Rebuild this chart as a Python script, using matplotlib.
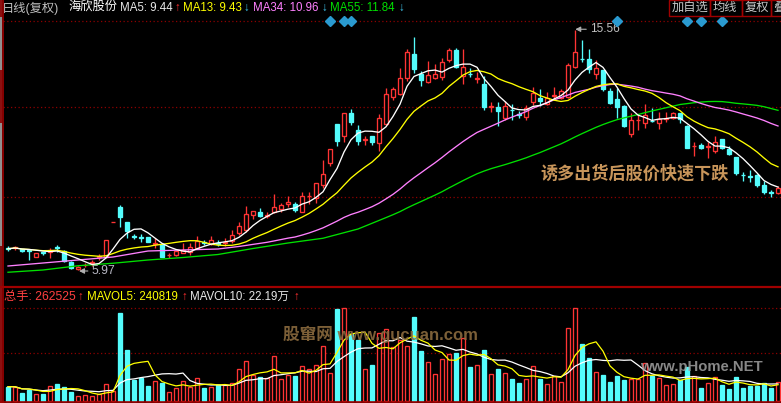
import numpy as np
import pandas as pd
import matplotlib
matplotlib.use('Agg')
import matplotlib.pyplot as plt
from matplotlib.lines import Line2D
from matplotlib.patches import Rectangle

plt.rcParams['font.family'] = ['Liberation Sans', 'Noto Sans CJK SC', 'DejaVu Sans']

# ---------------- data (daily bars, price in yuan, volume in 10k lots) ----------------
opens = [6.84, 6.84, 6.80, 6.76, 6.49, 6.69, 6.67, 6.87, 6.72, 6.29,
         6.00, 6.15, 6.24, 6.48, 6.49, 7.88, 8.49, 7.87, 7.32, 7.28,
         7.27, 7.00, 6.99, 6.55, 6.56, 6.65, 6.69, 6.86, 7.08, 7.00,
         7.04, 7.03, 7.13, 7.43, 7.56, 8.15, 8.29, 8.12, 8.29, 8.40,
         8.59, 8.60, 8.29, 8.91, 8.83, 9.35, 10.23, 11.80, 11.33, 12.23,
         11.56, 11.16, 11.32, 11.03, 11.80, 12.89, 13.00, 13.63, 14.60, 13.79,
         13.47, 13.65, 13.69, 14.36, 14.76, 13.73, 13.81, 13.61, 13.39, 12.48,
         12.49, 12.05, 12.38, 12.20, 12.09, 12.67, 12.85, 12.60, 12.92, 12.85,
         12.89, 14.09, 14.41, 14.39, 13.80, 13.96, 13.12, 12.80, 12.52, 11.40,
         11.95, 11.83, 11.93, 11.83, 12.01, 12.03, 12.23, 11.73, 10.91, 10.96,
         10.88, 10.73, 11.20, 10.79, 10.49, 9.77, 9.71, 9.76, 9.36, 9.08,
         9.03]
highs = [6.91, 6.93, 6.82, 6.76, 6.64, 6.69, 6.83, 6.96, 6.76, 6.32,
         6.14, 6.23, 6.36, 6.59, 7.16, 7.88, 8.56, 7.87, 7.39, 7.39,
         7.29, 7.23, 7.00, 6.63, 6.72, 7.03, 7.03, 7.34, 7.16, 7.32,
         7.16, 7.23, 7.56, 7.89, 8.52, 8.32, 8.43, 8.29, 9.00, 8.64,
         8.92, 8.67, 9.07, 9.07, 9.43, 10.36, 10.80, 11.80, 12.23, 12.40,
         11.76, 11.32, 11.32, 12.20, 13.25, 13.29, 14.03, 14.80, 15.29, 13.92,
         14.32, 14.19, 14.45, 14.83, 14.83, 14.80, 14.03, 13.89, 13.73, 12.69,
         12.67, 12.72, 12.59, 12.34, 12.56, 13.29, 13.20, 13.09, 13.29, 13.20,
         14.23, 15.56, 15.16, 14.79, 14.36, 13.96, 13.24, 13.23, 12.56, 12.23,
         12.20, 12.59, 12.44, 12.27, 12.29, 12.29, 12.24, 11.76, 11.07, 11.03,
         11.07, 11.32, 11.20, 10.93, 10.49, 9.89, 9.96, 9.80, 9.52, 9.16,
         9.32]
lows = [6.72, 6.75, 6.70, 6.36, 6.48, 6.56, 6.43, 6.69, 6.28, 6.01,
        5.97, 6.07, 6.13, 6.36, 6.49, 7.88, 7.69, 7.25, 7.20, 7.07,
        7.07, 6.85, 6.48, 6.43, 6.52, 6.65, 6.56, 6.83, 6.96, 6.96,
        6.92, 6.92, 7.03, 7.36, 7.49, 8.01, 8.10, 8.03, 8.25, 8.29,
        8.49, 8.29, 8.29, 8.60, 8.65, 9.23, 10.12, 10.93, 11.09, 11.76,
        10.96, 10.96, 10.96, 10.73, 11.76, 12.76, 12.96, 13.52, 13.83, 13.32,
        13.43, 13.60, 13.56, 14.29, 14.03, 13.39, 13.69, 13.43, 12.36, 12.27,
        11.73, 11.96, 11.96, 12.04, 11.96, 12.56, 12.53, 12.56, 12.80, 12.80,
        12.83, 14.03, 14.27, 13.83, 13.59, 13.12, 12.62, 12.03, 11.68, 11.29,
        11.56, 11.63, 11.88, 11.60, 11.89, 12.00, 11.83, 10.83, 10.53, 10.80,
        10.45, 10.63, 10.80, 10.58, 9.76, 9.53, 9.49, 9.30, 8.99, 8.89,
        9.02]
closes = [6.81, 6.87, 6.72, 6.73, 6.63, 6.64, 6.76, 6.84, 6.32, 6.05,
          6.09, 6.17, 6.27, 6.51, 7.16, 7.88, 8.09, 7.53, 7.28, 7.24,
          7.09, 7.04, 6.49, 6.57, 6.72, 6.75, 6.89, 7.12, 7.05, 7.16,
          7.01, 7.09, 7.36, 7.72, 8.20, 8.32, 8.12, 8.15, 8.47, 8.55,
          8.68, 8.36, 8.92, 8.93, 9.43, 9.80, 10.80, 11.13, 12.23, 11.89,
          11.13, 11.20, 11.09, 12.03, 12.99, 13.20, 13.65, 14.67, 14.00, 13.56,
          13.76, 13.79, 14.27, 14.76, 14.09, 14.07, 13.79, 13.64, 12.49, 12.51,
          12.32, 12.52, 12.35, 12.17, 12.45, 13.03, 12.72, 12.85, 12.95, 13.12,
          14.16, 14.70, 14.39, 14.00, 14.04, 13.20, 12.65, 12.48, 11.72, 11.96,
          11.97, 12.16, 11.91, 11.99, 12.04, 12.23, 12.00, 10.85, 10.93, 10.83,
          10.91, 11.07, 10.83, 10.60, 9.83, 9.75, 9.68, 9.36, 9.07, 9.05,
          9.23]
volumes = [19.3, 19.3, 10.6, 15.2, 9.2, 9.2, 20.2, 23.0, 19.3, 12.4,
           6.9, 7.8, 6.9, 9.2, 23.0, 13.8, 121.4, 70.4, 29.0, 30.8,
           20.2, 27.6, 24.4, 12.4, 17.5, 27.6, 18.4, 31.3, 17.9, 19.3,
           21.6, 21.6, 24.4, 43.7, 55.2, 35.9, 33.1, 30.8, 61.6, 30.4,
           35.9, 33.6, 47.4, 43.2, 49.7, 75.0, 38.6, 126.0, 128.4, 92.5,
           83.2, 43.2, 48.7, 93.8, 98.4, 74.1, 84.0, 75.0, 116.0, 68.0,
           54.0, 36.8, 57.5, 64.4, 66.2, 86.5, 46.9, 49.2, 70.4, 36.8,
           44.2, 38.2, 30.4, 24.8, 29.9, 47.8, 30.4, 23.0, 34.5, 26.2,
           100.3, 127.9, 78.7, 59.3, 40.0, 35.9, 26.2, 34.5, 29.0, 29.9,
           29.9, 52.0, 34.5, 31.7, 21.6, 23.0, 29.0, 46.9, 33.6, 17.9,
           24.8, 32.2, 22.1, 16.6, 33.1, 17.9, 20.7, 20.7, 24.4, 17.9,
           26.2]
# moving-average values before enough history is on screen
ma34_head_idx = [0, 5, 10, 15, 20, 25, 30]
ma34_head = [6.12, 6.24, 6.36, 6.48, 6.72, 6.76, 6.80]
ma55_head_idx = [0, 5, 10, 15, 20, 25, 30, 35, 40, 45, 50]
ma55_head = [5.87, 5.96, 6.13, 6.23, 6.36, 6.46, 6.58, 6.82, 7.04, 7.23, 7.60]
event_idx = [46, 48, 49, 87, 97, 99, 102]
hi_idx, hi_text = 81, '15.56'
lo_idx, lo_text = 10, '5.97'

price_header = [('日线(复权)', '#C0C0C0'), ('海欣股份', '#FFFFFF'),
                ('MA5: 9.44', '#E8E8E8'), ('↑', '#FF3030'),
                ('MA13: 9.43', '#FFFF00'), ('↓', '#40C8F0'),
                ('MA34: 10.96', '#FF80FF'), ('↓', '#40C8F0'),
                ('MA55: 11.84', '#00E000'), ('↓', '#40C8F0')]
vol_header = [('总手: 262525', '#FF4040'), ('↑', '#FF3030'),
              ('MAVOL5: 240819', '#FFFF00'), ('↑', '#FF3030'),
              ('MAVOL10: 22.19万', '#E8E8E8'), ('↑', '#FF3030')]
buttons = ['加自选', '均线', '复权', '叠']
note_text = '诱多出货后股价快速下跌'
wm1 = '股窜网 www.gucuan.com'
wm2 = 'www.pHome.NET'

# ---------------- style ----------------
W, H = 781, 403
RED = '#FF3434'
CYAN = '#54FCFC'
GRID = '#8C0000'
FRAME = '#A00000'

fig = plt.figure(figsize=(W / 100, H / 100), dpi=100, facecolor='black')

def fx(px):
    return px / W

def fy(py):
    return 1 - py / H

o = np.array(opens); h = np.array(highs); l = np.array(lows); c = np.array(closes)
v = np.array(volumes)
n = len(c)
x = np.arange(n)
up = c >= o
col = np.where(up, RED, CYAN)
blo = np.minimum(o, c)
bhi = np.maximum(o, c)

XL = (-5 / 7, 773 / 7)

# ---------------- price panel ----------------
P_TOP, P_BOT = 0, 287
ax = fig.add_axes([fx(3), fy(P_BOT), fx(778), (P_BOT - P_TOP) / H])
ax.set_facecolor('black')
ax.set_xlim(*XL)
ppx = 0.04
ytop = 16.76
ax.set_ylim(ytop - ppx * (P_BOT - P_TOP), ytop)
ax.axis('off')

def price_at(py):
    return ytop - ppx * py

for gy in (20.7, 106.7, 196.7):
    ax.axhline(price_at(gy), color=GRID, lw=0.9, ls=(0, (1, 2)), zorder=1)

# wicks
ax.vlines(x, bhi, h, colors=col, lw=0.95, zorder=3)
ax.vlines(x, l, blo, colors=col, lw=0.95, zorder=3)
# bodies
bh = np.maximum(bhi - blo, 0.004)
ax.bar(x[up], bh[up], bottom=blo[up], width=0.64, facecolor='black',
       edgecolor=RED, lw=0.95, zorder=4)
ax.bar(x[~up], bh[~up], bottom=blo[~up], width=0.64, facecolor=CYAN,
       edgecolor=CYAN, lw=0.95, zorder=4)

cs = pd.Series(c)
ma5 = cs.rolling(5, min_periods=1).mean()
ma13 = cs.rolling(13, min_periods=1).mean()
ma34 = cs.rolling(34).mean()
ma55 = cs.rolling(55).mean()
x34 = list(ma34_head_idx) + list(range(33, n))
y34 = list(ma34_head) + list(ma34.iloc[33:])
x55 = list(ma55_head_idx) + list(range(54, n))
y55 = list(ma55_head) + list(ma55.iloc[54:])

ax.plot(x55, y55, color='#00E000', lw=0.95, zorder=5)
ax.plot(x34, y34, color='#FF80FF', lw=0.95, zorder=5)
ax.plot(x, ma13, color='#FFFF00', lw=0.95, zorder=5)
ax.plot(x, ma5, color='#FFFFFF', lw=0.95, zorder=5)

# event diamonds
ax.plot(event_idx, [price_at(21)] * len(event_idx), ls='none', marker='D',
        ms=4.6, color='#2A9AD0', mec='#2A9AD0', zorder=6)

# high / low labels
ax.annotate(hi_text, xy=(hi_idx + 0.05, h[hi_idx] + 0.03),
            xytext=(hi_idx + 2.2, h[hi_idx] + 0.03), color='#C0C0C0',
            fontsize=8.6, va='center', ha='left',
            arrowprops=dict(arrowstyle='-|>,head_length=0.35,head_width=0.18',
                            color='#B0B0B0', lw=0.8, shrinkA=1, shrinkB=0))
ax.annotate(lo_text, xy=(lo_idx + 0.15, l[lo_idx] - 0.05),
            xytext=(lo_idx + 2.0, l[lo_idx] - 0.05), color='#B8B8C4',
            fontsize=8.8, va='center', ha='left',
            arrowprops=dict(arrowstyle='-|>,head_length=0.35,head_width=0.18',
                            color='#B0B0B0', lw=0.8, shrinkA=1, shrinkB=0))

# ---------------- volume panel ----------------
V_TOP, V_BOT = 287, 403
axv = fig.add_axes([fx(3), 0, fx(778), (V_BOT - V_TOP) / H])
axv.set_facecolor('black')
axv.set_xlim(*XL)
vpx = 1.38
v0 = 400.7
axv.set_ylim(-(V_BOT - v0) * vpx, (v0 - V_TOP) * vpx)
axv.axis('off')
for gy in (308, 353):
    axv.axhline((v0 - gy) * vpx, color=GRID, lw=0.9, ls=(0, (1, 2)), zorder=1)

axv.bar(x[up], v[up], width=0.64, facecolor='black', edgecolor=RED, lw=0.95, zorder=3)
axv.bar(x[~up], v[~up], width=0.64, facecolor=CYAN, edgecolor=CYAN, lw=0.95, zorder=3)
vs = pd.Series(v)
axv.plot(x, vs.rolling(10, min_periods=1).mean(), color='#FFFFFF', lw=0.9, zorder=5)
axv.plot(x, vs.rolling(5, min_periods=1).mean(), color='#FFFF00', lw=0.9, zorder=5)

# ---------------- frame lines ----------------
fig.add_artist(Line2D([0, 1], [fy(287), fy(287)], color=FRAME, lw=1.6))
fig.add_artist(Line2D([0, 1], [fy(401.5), fy(401.5)], color=FRAME, lw=1.2))
fig.add_artist(Line2D([fx(3), fx(3)], [0, 1], color=FRAME, lw=1.2))
# left side strip
for (y0, y1, cc) in [(0, 17, '#8C1010'), (17, 70, '#909090'), (70, 123, '#8C1010'),
                     (123, 178, '#909090'), (178, 246, '#909090'), (246, 287, '#7A1010'),
                     (287, 403, '#8C1010')]:
    fig.add_artist(Rectangle((0, fy(y1)), fx(2.4), (y1 - y0) / H, color=cc, lw=0))

# ---------------- texts ----------------
hx = [2, 68, 120, 174, 183, 243, 253, 321, 330, 398]
for (s, cc), px in zip(price_header, hx):
    fs = 8.8 if any(ord(ch) > 0x2e80 for ch in s) else 8.3
    fig.text(fx(px), fy(8), s, color=cc, fontsize=fs, va='center', ha='left')

vx = [4, 77, 87, 181, 190, 293]
for (s, cc), px in zip(vol_header, vx):
    fs = 8.8 if s.startswith('总') else 8.3
    fig.text(fx(px), fy(297), s, color=cc, fontsize=fs, va='center', ha='left')

bx = [(669, 710), (710, 742), (742, 771), (771, 790)]
for s, (x0, x1) in zip(buttons, bx):
    fig.add_artist(Rectangle((fx(x0), fy(16)), fx(x1 - x0), 16 / H, fill=False,
                             edgecolor=FRAME, lw=1.0))
    fig.text(fx(x0 + 2.5), fy(8), s, color='#C8C8C8', fontsize=8.8,
             va='center', ha='left')

fig.text(fx(635), fy(174), note_text, color='#C8955A', fontsize=12.3,
         fontweight='bold', family=['Noto Sans CJK SC'], va='center', ha='center')
fig.text(fx(283), fy(334), wm1, color='#8A6A3E', alpha=0.9, fontsize=12,
         fontweight='bold', va='center', ha='left', zorder=10)
fig.text(fx(640), fy(367), wm2, color='#A0A0A0', alpha=0.85, fontsize=10.7,
         fontweight='bold', va='center', ha='left', zorder=10)

fig.savefig('out.png', dpi=100, facecolor='black')
